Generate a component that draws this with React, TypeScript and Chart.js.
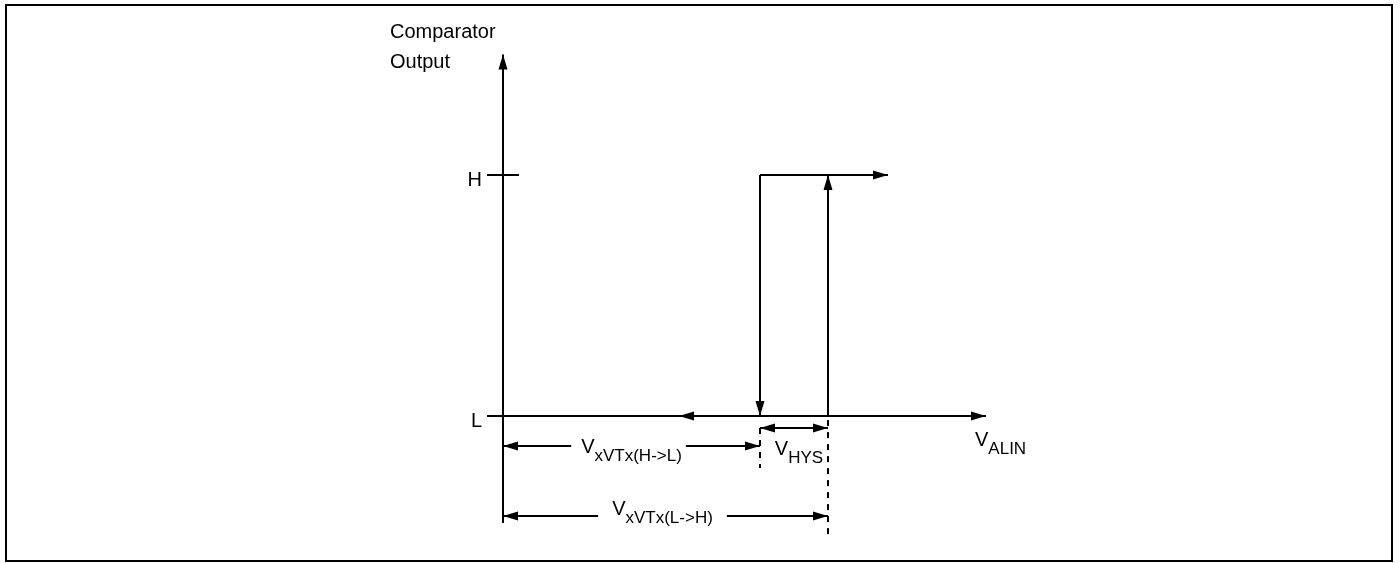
import React, { useEffect, useRef } from "react";
import { Chart, registerables } from "chart.js";

Chart.register(...registerables);

// ---- values (data units: x = input V_ALIN, y = output level) ----
const levelLabels = ["L", "H"];
const levelValues = [0, 1];

const thresholdNames = ["xVTx(H->L)", "xVTx(L->H)"];
const thresholdValues = [2.57, 3.25];

const xAxisRange = [-0.16, 4.83];
const yAxisRange = [-0.444, 1.5];
const levelTickRange = [-0.16, 0.16];
const outputHighEnd = [3.85];
const reverseArrowX = [1.76, 1.9];

// dimension lines: H->L, L->H, HYS
const dimensionLevels = [-0.1245, -0.415, -0.05];
// dashed guide extents at the two thresholds
const guideHL = [-0.05, -0.216];
const guideLH = [-0.017, -0.502];

const axisTitle = ["Comparator", "Output"];
const inputLabel = ["V", "ALIN"];
const hysLabel = ["V", "HYS"];

// ---- pixel mapping of the frame ----
const W = 1400;
const H = 563;
const ORIGIN_X = 503;
const ORIGIN_Y = 416;
const PX_X = 100;
const PX_Y = 241;

const FONT = '"Liberation Sans", Arial, sans-serif';
const MAIN_FONT = `20px ${FONT}`;
const SUB_FONT = `17px ${FONT}`;
const INK = "#000";

function seg(points: { x: number; y: number }[], extra: any = {}) {
  return {
    data: points,
    showLine: true,
    borderColor: INK,
    backgroundColor: INK,
    borderWidth: 2,
    pointRadius: 0,
    pointHoverRadius: 0,
    fill: false,
    tension: 0,
    ...extra,
  };
}

const L = levelValues[0];
const Hi = levelValues[1];
const thHL = thresholdValues[0];
const thLH = thresholdValues[1];

const datasets: any[] = [
  seg([{ x: 0, y: yAxisRange[0] }, { x: 0, y: yAxisRange[1] }], { arrowEnd: true }),
  seg([{ x: xAxisRange[0], y: L }, { x: xAxisRange[1], y: L }], { arrowEnd: true }),
  seg([{ x: levelTickRange[0], y: Hi }, { x: levelTickRange[1], y: Hi }]),
  seg([{ x: thHL, y: Hi }, { x: outputHighEnd[0], y: Hi }], { arrowEnd: true }),
  seg([{ x: thHL, y: Hi }, { x: thHL, y: L }], { arrowEnd: true }),
  seg([{ x: thLH, y: L }, { x: thLH, y: Hi }], { arrowEnd: true }),
  seg([{ x: reverseArrowX[1], y: L }, { x: reverseArrowX[0], y: L }], { arrowEnd: true }),
  seg([{ x: 0, y: dimensionLevels[0] }, { x: thHL, y: dimensionLevels[0] }], { arrowStart: true, arrowEnd: true }),
  seg([{ x: 0, y: dimensionLevels[1] }, { x: thLH, y: dimensionLevels[1] }], { arrowStart: true, arrowEnd: true }),
  seg([{ x: thHL, y: dimensionLevels[2] }, { x: thLH, y: dimensionLevels[2] }], { arrowStart: true, arrowEnd: true }),
  seg([{ x: thHL, y: guideHL[0] }, { x: thHL, y: guideHL[1] }], { borderDash: [6, 6] }),
  seg([{ x: thLH, y: guideLH[0] }, { x: thLH, y: guideLH[1] }], { borderDash: [6, 6] }),
];

function drawHead(ctx: CanvasRenderingContext2D, tip: any, from: any) {
  const len = 15;
  const half = 4.5;
  const a = Math.atan2(tip.y - from.y, tip.x - from.x);
  const c = Math.cos(a);
  const s = Math.sin(a);
  const bx = tip.x - len * c;
  const by = tip.y - len * s;
  ctx.beginPath();
  ctx.moveTo(tip.x, tip.y);
  ctx.lineTo(bx - half * s, by + half * c);
  ctx.lineTo(bx + half * s, by - half * c);
  ctx.closePath();
  ctx.fill();
}

const arrowPlugin = {
  id: "arrowHeads",
  afterDatasetsDraw(chart: any) {
    const ctx = chart.ctx as CanvasRenderingContext2D;
    ctx.save();
    ctx.fillStyle = INK;
    chart.data.datasets.forEach((ds: any, i: number) => {
      const pts = chart.getDatasetMeta(i).data;
      if (pts.length < 2) return;
      if (ds.arrowEnd) drawHead(ctx, pts[pts.length - 1], pts[pts.length - 2]);
      if (ds.arrowStart) drawHead(ctx, pts[0], pts[1]);
    });
    ctx.restore();
  },
};

function subText(
  ctx: CanvasRenderingContext2D,
  main: string,
  sub: string,
  x: number,
  y: number,
  align: "left" | "center",
  subDy: number,
  bg?: [number, number]
) {
  ctx.font = MAIN_FONT;
  const wm = ctx.measureText(main).width;
  ctx.font = SUB_FONT;
  const ws = ctx.measureText(sub).width;
  const total = wm + ws;
  const left = align === "center" ? x - total / 2 : x;
  if (bg) {
    ctx.fillStyle = "#fff";
    ctx.fillRect(left - bg[0], y - 20, total + bg[0] + bg[1], 34);
  }
  ctx.fillStyle = INK;
  ctx.textAlign = "left";
  ctx.textBaseline = "alphabetic";
  ctx.font = MAIN_FONT;
  ctx.fillText(main, left, y);
  ctx.font = SUB_FONT;
  ctx.fillText(sub, left + wm, y + subDy);
}

const labelPlugin = {
  id: "diagramLabels",
  afterDatasetsDraw(chart: any) {
    const ctx = chart.ctx as CanvasRenderingContext2D;
    const xs = chart.scales.x;
    const ys = chart.scales.y;
    const px = (v: number) => xs.getPixelForValue(v);
    const py = (v: number) => ys.getPixelForValue(v);
    ctx.save();

    // frame
    ctx.strokeStyle = INK;
    ctx.lineWidth = 2;
    ctx.strokeRect(6, 5, 1386, 556);

    // axis title
    ctx.fillStyle = INK;
    ctx.font = MAIN_FONT;
    ctx.textAlign = "left";
    ctx.textBaseline = "alphabetic";
    const tipX = px(0);
    const tipY = py(yAxisRange[1]);
    ctx.fillText(axisTitle[0], tipX - 113, tipY - 16.5);
    ctx.fillText(axisTitle[1], tipX - 113, tipY + 13.5);

    // level labels
    ctx.textAlign = "right";
    levelLabels.forEach((lab, i) => {
      ctx.fillText(lab, px(levelTickRange[0]) - 5, py(levelValues[i]) + 11);
    });

    // threshold dimension labels
    subText(ctx, "V", thresholdNames[0], px(thHL / 2), py(dimensionLevels[0]) + 7, "center", 8, [10, 4]);
    subText(ctx, "V", thresholdNames[1], px(thLH / 2) - 3, py(dimensionLevels[1]) - 1, "center", 8, [14, 14]);
    subText(ctx, hysLabel[0], hysLabel[1], px((thHL + thLH) / 2) + 5, py(dimensionLevels[2]) + 27, "center", 8);

    // input axis label
    subText(ctx, inputLabel[0], inputLabel[1], px(xAxisRange[1]) - 11, py(L) + 30, "left", 8);

    ctx.restore();
  },
};

export default function App() {
  const ref = useRef<HTMLCanvasElement | null>(null);
  useEffect(() => {
    if (!ref.current) return;
    const chart = new Chart(ref.current, {
      type: "scatter",
      data: { datasets },
      options: {
        animation: false,
        responsive: false,
        events: [],
        layout: { padding: 0 },
        plugins: { legend: { display: false }, tooltip: { enabled: false } },
        scales: {
          x: { type: "linear", display: false, min: -ORIGIN_X / PX_X, max: (W - ORIGIN_X) / PX_X },
          y: { type: "linear", display: false, min: -(H - ORIGIN_Y) / PX_Y, max: ORIGIN_Y / PX_Y },
        },
      },
      plugins: [arrowPlugin, labelPlugin],
    } as any);
    return () => chart.destroy();
  }, []);
  return (
    <div style={{ position: "absolute", left: 0, top: 0, width: W, height: H, background: "#fff" }}>
      <canvas ref={ref} width={W} height={H} style={{ display: "block" }} />
    </div>
  );
}
